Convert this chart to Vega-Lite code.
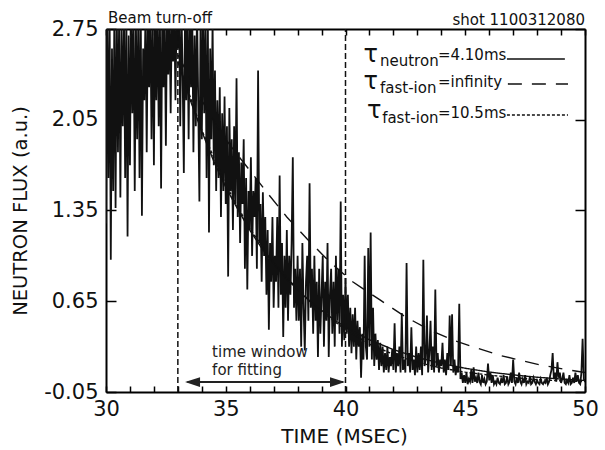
{
"$schema":"https://vega.github.io/schema/vega-lite/v6.json",
"width":479,"height":363,
"autosize":{"type":"none"},
"padding":{"left":106,"top":29,"right":20,"bottom":58},
"background":"white",
"config":{"view":{"stroke":null},"font":"DejaVu Sans","axis":{"grid":false,"domainColor":"black","domainWidth":2,"tickColor":"black","tickWidth":1.5,"labelColor":"#111","titleColor":"#111","labelFont":"DejaVu Sans","titleFont":"DejaVu Sans","titleFontWeight":"normal"}},
"datasets":{
"sig":[
{"t":30.00,"v":1.25},{"t":30.05,"v":2.9},{"t":30.10,"v":1.6},{"t":30.15,"v":2.9},{"t":30.20,"v":0.97},{"t":30.25,"v":2.6},{"t":30.30,"v":1.5},{"t":30.35,"v":2.9},{"t":30.40,"v":1.37},{"t":30.45,"v":2.9},
{"t":30.50,"v":1.8},{"t":30.55,"v":2.9},{"t":30.60,"v":1.45},{"t":30.65,"v":2.75},{"t":30.70,"v":2.0},{"t":30.75,"v":2.9},{"t":30.80,"v":1.6},{"t":30.85,"v":2.9},{"t":30.90,"v":1.15},{"t":30.95,"v":2.7},
{"t":31.00,"v":1.7},{"t":31.05,"v":2.9},{"t":31.10,"v":2.1},{"t":31.15,"v":2.9},{"t":31.20,"v":1.5},{"t":31.25,"v":2.8},{"t":31.30,"v":1.9},{"t":31.35,"v":2.9},{"t":31.40,"v":1.6},{"t":31.45,"v":2.9},
{"t":31.50,"v":1.31},{"t":31.55,"v":2.6},{"t":31.60,"v":2.2},{"t":31.65,"v":2.9},{"t":31.70,"v":1.8},{"t":31.75,"v":2.9},{"t":31.80,"v":2.3},{"t":31.85,"v":2.9},{"t":31.90,"v":1.9},{"t":31.95,"v":2.9},
{"t":32.00,"v":1.70},{"t":32.05,"v":2.9},{"t":32.10,"v":2.2},{"t":32.15,"v":2.9},{"t":32.20,"v":2.0},{"t":32.25,"v":2.9},{"t":32.30,"v":1.52},{"t":32.35,"v":2.9},{"t":32.40,"v":2.3},{"t":32.45,"v":2.9},
{"t":32.50,"v":1.85},{"t":32.55,"v":2.9},{"t":32.60,"v":2.4},{"t":32.65,"v":2.9},{"t":32.70,"v":2.1},{"t":32.75,"v":2.9},{"t":32.80,"v":2.5},{"t":32.85,"v":2.9},{"t":32.90,"v":2.2},{"t":32.95,"v":2.9},
{"t":33.00,"v":2.6},{"t":33.05,"v":2.9},{"t":33.10,"v":2.0},{"t":33.15,"v":2.9},{"t":33.20,"v":2.4},{"t":33.25,"v":1.64},{"t":33.30,"v":2.9},{"t":33.35,"v":2.2},{"t":33.40,"v":2.9},{"t":33.45,"v":1.9},
{"t":33.50,"v":2.9},{"t":33.55,"v":2.3},{"t":33.60,"v":2.9},{"t":33.65,"v":1.8},{"t":33.70,"v":2.7},{"t":33.75,"v":2.0},{"t":33.80,"v":2.9},{"t":33.85,"v":2.2},{"t":33.90,"v":1.42},{"t":33.95,"v":2.9},
{"t":34.00,"v":1.9},{"t":34.05,"v":2.9},{"t":34.10,"v":2.1},{"t":34.15,"v":2.8},{"t":34.20,"v":1.6},{"t":34.25,"v":2.9},{"t":34.30,"v":1.18},{"t":34.35,"v":2.6},{"t":34.40,"v":1.9},{"t":34.45,"v":2.8},
{"t":34.50,"v":1.7},{"t":34.55,"v":2.43},{"t":34.60,"v":1.5},{"t":34.65,"v":2.2},{"t":34.70,"v":1.6},{"t":34.75,"v":2.3},{"t":34.80,"v":1.3},{"t":34.85,"v":2.1},{"t":34.90,"v":1.5},{"t":34.95,"v":2.23},
{"t":35.00,"v":1.4},{"t":35.05,"v":2.0},{"t":35.10,"v":0.84},{"t":35.15,"v":2.14},{"t":35.20,"v":1.5},{"t":35.25,"v":1.9},{"t":35.30,"v":1.2},{"t":35.35,"v":2.0},{"t":35.40,"v":1.4},{"t":35.45,"v":2.37},
{"t":35.50,"v":1.3},{"t":35.55,"v":1.8},{"t":35.60,"v":1.1},{"t":35.65,"v":1.72},{"t":35.70,"v":1.4},{"t":35.75,"v":1.9},{"t":35.80,"v":0.9},{"t":35.85,"v":1.6},{"t":35.90,"v":0.74},{"t":35.95,"v":1.5},
{"t":36.00,"v":1.2},{"t":36.05,"v":1.76},{"t":36.10,"v":1.0},{"t":36.15,"v":1.5},{"t":36.20,"v":1.3},{"t":36.25,"v":1.6},{"t":36.30,"v":0.9},{"t":36.35,"v":2.43},{"t":36.40,"v":1.1},{"t":36.45,"v":1.4},
{"t":36.50,"v":0.8},{"t":36.55,"v":1.49},{"t":36.60,"v":1.0},{"t":36.65,"v":1.3},{"t":36.70,"v":0.7},{"t":36.75,"v":1.2},{"t":36.80,"v":0.43},{"t":36.85,"v":1.1},{"t":36.90,"v":0.8},{"t":36.95,"v":1.3},
{"t":37.00,"v":0.6},{"t":37.05,"v":1.0},{"t":37.10,"v":0.8},{"t":37.15,"v":1.3},{"t":37.20,"v":0.6},{"t":37.25,"v":1.62},{"t":37.30,"v":0.7},{"t":37.35,"v":1.1},{"t":37.40,"v":0.375},{"t":37.45,"v":1.0},
{"t":37.50,"v":0.6},{"t":37.55,"v":1.2},{"t":37.60,"v":0.5},{"t":37.65,"v":1.0},{"t":37.70,"v":0.7},{"t":37.75,"v":1.1},{"t":37.80,"v":1.76},{"t":37.85,"v":0.6},{"t":37.90,"v":0.9},{"t":37.95,"v":0.5},
{"t":38.00,"v":1.0},{"t":38.05,"v":0.5},{"t":38.10,"v":0.9},{"t":38.15,"v":0.30},{"t":38.20,"v":1.1},{"t":38.25,"v":0.6},{"t":38.30,"v":0.27},{"t":38.35,"v":0.8},{"t":38.40,"v":1.0},{"t":38.45,"v":0.5},
{"t":38.50,"v":1.56},{"t":38.55,"v":0.6},{"t":38.60,"v":0.9},{"t":38.65,"v":0.4},{"t":38.70,"v":1.0},{"t":38.75,"v":0.5},{"t":38.80,"v":0.8},{"t":38.85,"v":0.22},{"t":38.90,"v":0.9},{"t":38.95,"v":0.4},
{"t":39.00,"v":0.7},{"t":39.05,"v":1.0},{"t":39.10,"v":0.3},{"t":39.15,"v":0.8},{"t":39.20,"v":0.5},{"t":39.25,"v":1.1},{"t":39.30,"v":0.22},{"t":39.35,"v":0.7},{"t":39.40,"v":0.9},{"t":39.45,"v":0.4},
{"t":39.50,"v":0.8},{"t":39.55,"v":0.3},{"t":39.60,"v":1.0},{"t":39.65,"v":0.5},{"t":39.70,"v":0.9},{"t":39.75,"v":0.4},{"t":39.80,"v":1.42},{"t":39.85,"v":0.3},{"t":39.90,"v":0.7},{"t":39.95,"v":0.35},
{"t":40.00,"v":0.83},{"t":40.05,"v":0.4},{"t":40.10,"v":0.7},{"t":40.15,"v":0.3},{"t":40.20,"v":0.6},{"t":40.25,"v":0.25},{"t":40.30,"v":0.55},{"t":40.35,"v":0.3},{"t":40.40,"v":0.6},{"t":40.45,"v":0.2},
{"t":40.50,"v":0.5},{"t":40.55,"v":0.3},{"t":40.60,"v":0.45},{"t":40.65,"v":0.06},{"t":40.70,"v":0.4},{"t":40.75,"v":0.2},{"t":40.80,"v":1.0},{"t":40.85,"v":0.3},{"t":40.90,"v":0.2},{"t":40.95,"v":1.06},
{"t":41.00,"v":0.3},{"t":41.05,"v":1.18},{"t":41.10,"v":0.2},{"t":41.15,"v":0.6},{"t":41.20,"v":0.15},{"t":41.25,"v":0.4},{"t":41.30,"v":0.2},{"t":41.35,"v":0.35},{"t":41.40,"v":0.12},{"t":41.45,"v":0.33},
{"t":41.50,"v":0.15},{"t":41.55,"v":0.3},{"t":41.60,"v":0.1},{"t":41.65,"v":0.25},{"t":41.70,"v":0.12},{"t":41.75,"v":0.3},{"t":41.80,"v":0.1},{"t":41.85,"v":0.22},{"t":41.90,"v":0.15},{"t":41.95,"v":0.28},
{"t":42.00,"v":0.12},{"t":42.05,"v":0.48},{"t":42.10,"v":0.1},{"t":42.15,"v":0.25},{"t":42.20,"v":0.15},{"t":42.25,"v":0.3},{"t":42.30,"v":0.1},{"t":42.35,"v":0.56},{"t":42.40,"v":0.12},{"t":42.45,"v":0.2},
{"t":42.50,"v":0.1},{"t":42.55,"v":0.945},{"t":42.60,"v":0.15},{"t":42.65,"v":0.25},{"t":42.70,"v":0.1},{"t":42.75,"v":0.45},{"t":42.80,"v":0.12},{"t":42.85,"v":0.2},{"t":42.90,"v":0.08},{"t":42.95,"v":0.3},
{"t":43.00,"v":0.1},{"t":43.05,"v":0.25},{"t":43.10,"v":0.12},{"t":43.15,"v":0.3},{"t":43.20,"v":0.08},{"t":43.25,"v":0.97},{"t":43.30,"v":0.15},{"t":43.35,"v":0.2},{"t":43.40,"v":0.54},{"t":43.45,"v":0.1},
{"t":43.50,"v":0.25},{"t":43.55,"v":0.5},{"t":43.60,"v":0.12},{"t":43.65,"v":0.3},{"t":43.70,"v":0.1},{"t":43.75,"v":0.74},{"t":43.80,"v":0.15},{"t":43.85,"v":0.25},{"t":43.90,"v":0.1},{"t":43.95,"v":0.2},
{"t":44.00,"v":0.15},{"t":44.05,"v":0.33},{"t":44.10,"v":0.1},{"t":44.15,"v":0.2},{"t":44.20,"v":0.08},{"t":44.25,"v":0.25},{"t":44.30,"v":0.12},{"t":44.35,"v":0.54},{"t":44.40,"v":0.15},{"t":44.45,"v":0.55},
{"t":44.50,"v":0.1},{"t":44.55,"v":0.2},{"t":44.60,"v":0.08},{"t":44.65,"v":0.15},{"t":44.70,"v":0.1},{"t":44.75,"v":0.63},{"t":44.80,"v":0.05},{"t":44.85,"v":0.1},{"t":44.90,"v":0.02},{"t":44.95,"v":0.08},
{"t":45.00,"v":0.02},{"t":45.05,"v":0.1},{"t":45.10,"v":0.01},{"t":45.15,"v":0.05},{"t":45.20,"v":0.03},{"t":45.25,"v":0.12},{"t":45.30,"v":0.02},{"t":45.35,"v":0.14},{"t":45.40,"v":0.03},{"t":45.45,"v":0.06},
{"t":45.50,"v":0.02},{"t":45.55,"v":0.1},{"t":45.60,"v":0.03},{"t":45.65,"v":0.01},{"t":45.70,"v":0.08},{"t":45.75,"v":0.02},{"t":45.80,"v":0.05},{"t":45.85,"v":0.01},{"t":45.90,"v":0.03},{"t":45.95,"v":0.17},
{"t":46.00,"v":0.04},{"t":46.05,"v":0.1},{"t":46.10,"v":0.02},{"t":46.15,"v":0.08},{"t":46.20,"v":0.01},{"t":46.25,"v":0.03},{"t":46.30,"v":0.01},{"t":46.35,"v":0.06},{"t":46.40,"v":0.02},{"t":46.45,"v":0.01},
{"t":46.50,"v":0.05},{"t":46.55,"v":0.02},{"t":46.60,"v":0.08},{"t":46.65,"v":0.01},{"t":46.70,"v":0.02},{"t":46.75,"v":0.07},{"t":46.80,"v":0.01},{"t":46.85,"v":0.03},{"t":46.90,"v":0.1},{"t":46.95,"v":0.02},
{"t":47.00,"v":0.20},{"t":47.05,"v":0.03},{"t":47.10,"v":0.01},{"t":47.15,"v":0.06},{"t":47.20,"v":0.02},{"t":47.25,"v":0.1},{"t":47.30,"v":0.03},{"t":47.35,"v":0.01},{"t":47.40,"v":0.05},{"t":47.45,"v":0.02},
{"t":47.50,"v":0.08},{"t":47.55,"v":0.01},{"t":47.60,"v":0.03},{"t":47.65,"v":0.02},{"t":47.70,"v":0.07},{"t":47.75,"v":0.01},{"t":47.80,"v":0.02},{"t":47.85,"v":0.06},{"t":47.90,"v":0.03},{"t":47.95,"v":0.01},
{"t":48.00,"v":0.04},{"t":48.05,"v":0.02},{"t":48.10,"v":0.01},{"t":48.15,"v":0.05},{"t":48.20,"v":0.02},{"t":48.25,"v":0.01},{"t":48.30,"v":0.03},{"t":48.35,"v":0.02},{"t":48.40,"v":0.06},{"t":48.45,"v":0.01},
{"t":48.50,"v":0.03},{"t":48.55,"v":0.08},{"t":48.60,"v":0.12},{"t":48.65,"v":0.25},{"t":48.70,"v":0.05},{"t":48.75,"v":0.1},{"t":48.80,"v":0.03},{"t":48.85,"v":0.18},{"t":48.90,"v":0.06},{"t":48.95,"v":0.1},
{"t":49.00,"v":0.02},{"t":49.05,"v":0.05},{"t":49.10,"v":0.1},{"t":49.15,"v":0.02},{"t":49.20,"v":0.01},{"t":49.25,"v":0.04},{"t":49.30,"v":0.02},{"t":49.35,"v":0.08},{"t":49.40,"v":0.01},{"t":49.45,"v":0.02},
{"t":49.50,"v":0.06},{"t":49.55,"v":0.02},{"t":49.60,"v":0.1},{"t":49.65,"v":0.03},{"t":49.70,"v":0.08},{"t":49.75,"v":0.02},{"t":49.80,"v":0.01},{"t":49.85,"v":0.1},{"t":49.90,"v":0.36},{"t":49.95,"v":0.05},
{"t":50.00,"v":0.03}
],
"fits":[
{"s":"n","t":33,"v":2.5},{"s":"n","t":33.5,"v":2.21},{"s":"n","t":34,"v":1.96},{"s":"n","t":34.5,"v":1.73},{"s":"n","t":35,"v":1.53},{"s":"n","t":35.5,"v":1.36},{"s":"n","t":36,"v":1.2},{"s":"n","t":36.5,"v":1.06},{"s":"n","t":37,"v":0.94},{"s":"n","t":37.5,"v":0.83},{"s":"n","t":38,"v":0.74},{"s":"n","t":38.5,"v":0.65},{"s":"n","t":39,"v":0.58},{"s":"n","t":39.5,"v":0.51},{"s":"n","t":40,"v":0.45},{"s":"n","t":41,"v":0.353},{"s":"n","t":42,"v":0.277},{"s":"n","t":43,"v":0.217},{"s":"n","t":44,"v":0.17},{"s":"n","t":45,"v":0.133},{"s":"n","t":46,"v":0.104},{"s":"n","t":47,"v":0.082},{"s":"n","t":48,"v":0.064},{"s":"n","t":49,"v":0.05},{"s":"n","t":50,"v":0.039},
{"s":"i","t":33,"v":2.55},{"s":"i","t":34,"v":2.2},{"s":"i","t":34.76,"v":1.96},{"s":"i","t":35.4,"v":1.8},{"s":"i","t":36,"v":1.66},{"s":"i","t":36.76,"v":1.48},{"s":"i","t":37.55,"v":1.3},{"s":"i","t":38.4,"v":1.13},{"s":"i","t":39.3,"v":0.96},{"s":"i","t":40.3,"v":0.8},{"s":"i","t":41.44,"v":0.66},{"s":"i","t":42.5,"v":0.53},{"s":"i","t":43.5,"v":0.43},{"s":"i","t":44.5,"v":0.35},{"s":"i","t":45.3,"v":0.3},{"s":"i","t":46.5,"v":0.23},{"s":"i","t":48.1,"v":0.16},{"s":"i","t":49,"v":0.13},{"s":"i","t":50,"v":0.1},
{"s":"f","t":33,"v":2.5},{"s":"f","t":34,"v":1.97},{"s":"f","t":35,"v":1.55},{"s":"f","t":36,"v":1.21},{"s":"f","t":37,"v":0.95},{"s":"f","t":38,"v":0.74},{"s":"f","t":39,"v":0.57},{"s":"f","t":40,"v":0.43},{"s":"f","t":41,"v":0.32},{"s":"f","t":42,"v":0.24},{"s":"f","t":43,"v":0.18},{"s":"f","t":44,"v":0.135},{"s":"f","t":45,"v":0.103},{"s":"f","t":46,"v":0.08},{"s":"f","t":47,"v":0.062},{"s":"f","t":48,"v":0.045},{"s":"f","t":49,"v":0.036},{"s":"f","t":50,"v":0.03}
],
"legline":[{"s":"n","t1":46.74,"t2":49.16,"v":2.519},{"s":"i","t1":46.78,"t2":49.29,"v":2.326},{"s":"f","t1":46.74,"t2":49.29,"v":2.087}],
"tau":[{"t":40.75,"v":2.495,"txt":"τ"},{"t":40.75,"v":2.29,"txt":"τ"},{"t":40.9,"v":2.064,"txt":"τ"}],
"sub":[{"t":41.44,"v":2.465,"txt":"neutron"},{"t":41.44,"v":2.256,"txt":"fast-ion"},{"t":41.53,"v":2.025,"txt":"fast-ion"}],
"main":[{"t":43.86,"v":2.511,"txt":"=4.10ms"},{"t":43.86,"v":2.303,"txt":"=infinity"},{"t":43.86,"v":2.064,"txt":"=10.5ms"}],
"vlines":[{"t":33},{"t":40}],
"arrow":[{"t1":33.4,"t2":39.9,"v":0.027}],
"heads":[{"t":33.3,"v":0.027,"d":"L"},{"t":39.98,"v":0.027,"d":"R"}],
"notes":[{"t":34.43,"v":0.22,"txt":"time window"},{"t":34.43,"v":0.081,"txt":"for fitting"}],
"topl":[{"t":30.08,"v":2.796,"txt":"Beam turn-off"}],
"topr":[{"t":50,"v":2.782,"txt":"shot 1100312080"}]
},
"layer":[
{"data":{"name":"sig"},"mark":{"type":"line","stroke":"#111","strokeWidth":1.8,"clip":true},
 "encoding":{
  "x":{"field":"t","type":"quantitative","scale":{"domain":[30,50],"nice":false,"zero":false},
   "axis":{"orient":"bottom","values":[30,31,32,33,34,35,36,37,38,39,40,41,42,43,44,45,46,47,48,49,50],"format":"d","labelExpr":"datum.value % 5 === 0 ? datum.label : ''","tickSize":-6,"labelPadding":12,"labelFontSize":21,"labelFlush":false,"title":"TIME (MSEC)","titleFontSize":20,"titleX":238,"titleY":50,"titleBaseline":"alphabetic","titleAnchor":"middle"}},
  "y":{"field":"v","type":"quantitative","scale":{"domain":[-0.05,2.75],"nice":false,"zero":false},
   "axis":{"orient":"left","values":[-0.05,0.65,1.35,2.05,2.75],"format":".2f","labelExpr":"replace(datum.label, '\u2212', '-')","tickSize":-10,"labelPadding":18,"labelFontSize":21,"labelFlush":false,"title":"NEUTRON FLUX  (a.u.)","titleFontSize":19.5,"titleX":-86,"titleY":181.5,"titleBaseline":"middle","titleAngle":-90}}
 }},
{"data":{"name":"fits"},"mark":{"type":"line","stroke":"#111","strokeWidth":1.4,"clip":true},
 "encoding":{
  "x":{"field":"t","type":"quantitative","axis":{"orient":"top","values":[30,31,32,33,34,35,36,37,38,39,40,41,42,43,44,45,46,47,48,49,50],"labels":false,"tickSize":-6,"title":null}},
  "y":{"field":"v","type":"quantitative","axis":{"orient":"right","values":[-0.05,0.65,1.35,2.05,2.75],"labels":false,"tickSize":-10,"title":null}},
  "strokeDash":{"field":"s","type":"nominal","scale":{"domain":["n","i","f"],"range":[[1,0],[14,10],[3,2]]},"legend":null},
  "detail":{"field":"s"}
 }},
{"data":{"name":"legline"},"mark":{"type":"rule","stroke":"#111","strokeWidth":1.6},
 "encoding":{"x":{"field":"t1","type":"quantitative","axis":null},"x2":{"field":"t2"},"y":{"field":"v","type":"quantitative","axis":null},
  "strokeDash":{"field":"s","type":"nominal","legend":null}}},
{"data":{"name":"vlines"},"mark":{"type":"rule","stroke":"#111","strokeWidth":1.5,"strokeDash":[6,3]},
 "encoding":{"x":{"field":"t","type":"quantitative","axis":null},"y":{"datum":-0.05,"type":"quantitative","axis":null},"y2":{"datum":2.75}}},
{"data":{"name":"arrow"},"mark":{"type":"rule","stroke":"#222","strokeWidth":2},
 "encoding":{"x":{"field":"t1","type":"quantitative","axis":null},"x2":{"field":"t2"},"y":{"field":"v","type":"quantitative","axis":null}}},
{"data":{"name":"heads"},"transform":[{"filter":"datum.d === 'L'"}],"mark":{"type":"point","shape":"M0,0L2,-0.65L2,0.65Z","filled":true,"fill":"#222","stroke":null,"size":225,"opacity":1},
 "encoding":{"x":{"field":"t","type":"quantitative","axis":null},"y":{"field":"v","type":"quantitative","axis":null}}},
{"data":{"name":"heads"},"transform":[{"filter":"datum.d === 'R'"}],"mark":{"type":"point","shape":"M0,0L-2,-0.65L-2,0.65Z","filled":true,"fill":"#222","stroke":null,"size":225,"opacity":1},
 "encoding":{"x":{"field":"t","type":"quantitative","axis":null},"y":{"field":"v","type":"quantitative","axis":null}}},
{"data":{"name":"notes"},"mark":{"type":"text","align":"left","baseline":"alphabetic","fontSize":15,"fill":"#222"},
 "encoding":{"x":{"field":"t","type":"quantitative","axis":null},"y":{"field":"v","type":"quantitative","axis":null},"text":{"field":"txt"}}},
{"data":{"name":"tau"},"mark":{"type":"text","align":"left","baseline":"alphabetic","fontSize":24,"fill":"#111"},
 "encoding":{"x":{"field":"t","type":"quantitative","axis":null},"y":{"field":"v","type":"quantitative","axis":null},"text":{"field":"txt"}}},
{"data":{"name":"sub"},"mark":{"type":"text","align":"left","baseline":"alphabetic","fontSize":15,"fill":"#111"},
 "encoding":{"x":{"field":"t","type":"quantitative","axis":null},"y":{"field":"v","type":"quantitative","axis":null},"text":{"field":"txt"}}},
{"data":{"name":"main"},"mark":{"type":"text","align":"left","baseline":"alphabetic","fontSize":15,"fill":"#111"},
 "encoding":{"x":{"field":"t","type":"quantitative","axis":null},"y":{"field":"v","type":"quantitative","axis":null},"text":{"field":"txt"}}},
{"data":{"name":"topl"},"mark":{"type":"text","align":"left","baseline":"alphabetic","fontSize":15,"fill":"#111"},
 "encoding":{"x":{"field":"t","type":"quantitative","axis":null},"y":{"field":"v","type":"quantitative","axis":null},"text":{"field":"txt"}}},
{"data":{"name":"topr"},"mark":{"type":"text","align":"right","baseline":"alphabetic","fontSize":15,"fill":"#111"},
 "encoding":{"x":{"field":"t","type":"quantitative","axis":null},"y":{"field":"v","type":"quantitative","axis":null},"text":{"field":"txt"}}}
],
"resolve":{"axis":{"x":"independent","y":"independent"}}
}
